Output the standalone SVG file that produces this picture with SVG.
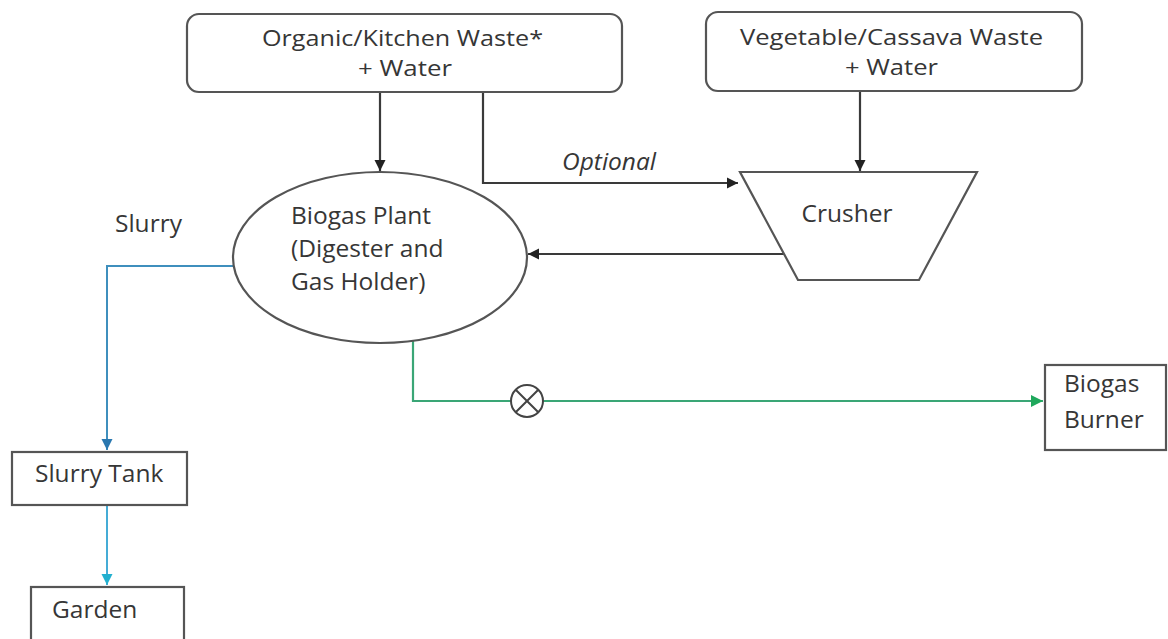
<svg xmlns="http://www.w3.org/2000/svg" width="1168" height="639" viewBox="0 0 1168 639">
<style>
  .box{fill:#fff;stroke:#555;stroke-width:2.2}
  .t{font-family:"Open Sans","Noto Sans","Liberation Sans",sans-serif;font-size:24.5px;fill:#363636}
  .tb{font-size:22.5px}
  .k{fill:none;stroke:#3a3a3a;stroke-width:2.2}
  .bl{fill:none;stroke:#3f8fbd;stroke-width:2}
  .cy{fill:none;stroke:#45acd6;stroke-width:2}
  .gr{fill:none;stroke:#3aa676;stroke-width:2.2}
</style>
<defs>
  <marker id="ak" markerWidth="12" markerHeight="12" refX="11" refY="6" orient="auto" markerUnits="userSpaceOnUse">
    <path d="M0,0.5 L11,6 L0,11.5 Z" fill="#222"/>
  </marker>
  <marker id="ab" markerWidth="12" markerHeight="12" refX="11" refY="6" orient="auto" markerUnits="userSpaceOnUse">
    <path d="M0,0.5 L11,6 L0,11.5 Z" fill="#2a78b0"/>
  </marker>
  <marker id="ac" markerWidth="12" markerHeight="12" refX="11" refY="6" orient="auto" markerUnits="userSpaceOnUse">
    <path d="M0,0.5 L11,6 L0,11.5 Z" fill="#22b0cf"/>
  </marker>
  <marker id="ag" markerWidth="13" markerHeight="13" refX="12" refY="6.5" orient="auto" markerUnits="userSpaceOnUse">
    <path d="M0,0.5 L12,6.5 L0,12.5 Z" fill="#1fa85c"/>
  </marker>
</defs>
<rect width="1168" height="639" fill="#fff"/>

<g id="connectors">
  <path class="k" d="M380,92 V171" marker-end="url(#ak)"/>
  <path class="k" d="M483,92 V183 H738" marker-end="url(#ak)"/>
  <path class="k" d="M860,91 V171" marker-end="url(#ak)"/>
  <path class="k" d="M784,254 H528" marker-end="url(#ak)"/>
  <path class="bl" d="M234,266 H107 V450" marker-end="url(#ab)"/>
  <path class="cy" d="M107,505 V585" marker-end="url(#ac)"/>
  <path class="gr" d="M413,341 V401 H511"/>
  <path class="gr" d="M543,401 H1043" marker-end="url(#ag)"/>
  <text class="t" x="562" y="170" font-style="italic">Optional</text>
  <text class="t" x="115" y="232">Slurry</text>
</g>

<g id="valve">
  <circle cx="527" cy="401" r="16" fill="#fff" stroke="#444" stroke-width="2"/>
  <path d="M515.7,389.7 L538.3,412.3 M538.3,389.7 L515.7,412.3" stroke="#444" stroke-width="2"/>
</g>

<g id="organic">
  <rect class="box" x="187" y="14" width="435" height="78" rx="12"/>
  <text class="t tb" x="262" y="46" textLength="281" lengthAdjust="spacingAndGlyphs">Organic/Kitchen Waste*</text>
  <text class="t tb" x="358" y="76" textLength="94" lengthAdjust="spacingAndGlyphs">+ Water</text>
</g>

<g id="vegetable">
  <rect class="box" x="706" y="12" width="376" height="79" rx="12"/>
  <text class="t tb" x="740" y="45" textLength="303" lengthAdjust="spacingAndGlyphs">Vegetable/Cassava Waste</text>
  <text class="t tb" x="845" y="75" textLength="93" lengthAdjust="spacingAndGlyphs">+ Water</text>
</g>

<g id="crusher">
  <polygon class="box" points="740,172 977,172 919,280 798,280"/>
  <text class="t" x="847" y="222" text-anchor="middle">Crusher</text>
</g>

<g id="biogas-plant">
  <ellipse class="box" cx="380" cy="257.5" rx="147" ry="85.5"/>
  <text class="t" x="291" y="224">Biogas Plant</text>
  <text class="t" x="291" y="257">(Digester and</text>
  <text class="t" x="291" y="290">Gas Holder)</text>
</g>

<g id="slurry-tank">
  <rect class="box" x="12" y="452" width="175" height="53"/>
  <text class="t" x="35" y="482">Slurry Tank</text>
</g>

<g id="garden">
  <rect class="box" x="31" y="587" width="153" height="70"/>
  <text class="t" x="52" y="618">Garden</text>
</g>

<g id="burner">
  <rect class="box" x="1045" y="365" width="121" height="85"/>
  <text class="t" x="1064" y="392">Biogas</text>
  <text class="t" x="1064" y="428">Burner</text>
</g>
</svg>
